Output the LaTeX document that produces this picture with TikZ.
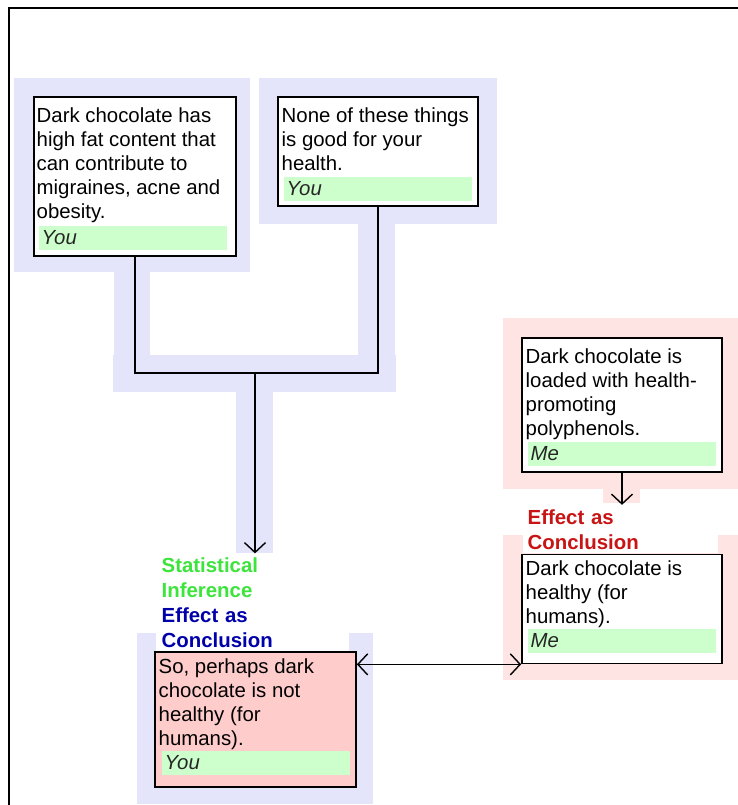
\documentclass[tikz,border=0pt]{standalone}
\usepackage{fontspec}
\setmainfont{Liberation Sans}
\usetikzlibrary{arrows.meta, positioning}

\definecolor{haloblue}{RGB}{228,228,250}
\definecolor{halopink}{RGB}{255,228,228}
\definecolor{bandgreen}{RGB}{204,255,204}
\definecolor{concpink}{RGB}{255,204,204}
\definecolor{infgreen}{RGB}{60,228,60}
\definecolor{effblue}{RGB}{0,0,170}
\definecolor{effred}{RGB}{200,20,20}
\newcommand{\claimfont}{\fontsize{14.5}{17}\selectfont}
\newcommand{\tagfont}{\fontsize{14.5}{17.6}\selectfont}

\begin{document}
\begin{tikzpicture}[x=0.025cm, y=-0.025cm, line width=1pt,
    >={Straight Barb[length=7pt,width=15pt]},
    claim/.style={draw, rectangle, fill=white, line width=1.2pt, inner sep=0pt},
    claimtext/.style={anchor=north west, inner sep=0pt, align=left, font=\claimfont},
    who/.style={anchor=north west, fill=bandgreen, minimum height=0.6cm, text width=4.55cm,
        inner xsep=0.075cm, inner ysep=0pt, align=left, text=black!85, font=\claimfont\itshape},
    tag/.style={anchor=south west, fill=white, inner xsep=0.15cm, inner ysep=0.1cm,
        align=left, font=\tagfont\bfseries}]
    \useasboundingbox (0,0) rectangle (738,805);

    % Frame
    \draw [line width=1.4pt] (9,805) -- (9,8) -- (738,8);

    % Highlights (you)
    \fill [haloblue] (14,78) rectangle (250,272);
    \fill [haloblue] (259,78) rectangle (497,224);
    \fill [haloblue] (114,272) rectangle (150,355);
    \fill [haloblue] (358,224) rectangle (395,355);
    \fill [haloblue] (113,355) rectangle (396,392);
    \fill [haloblue] (236,392) rectangle (273,553);
    \fill [haloblue] (137,633) rectangle (373,804);

    % Highlights (me)
    \fill [halopink] (503,318) rectangle (738,489);
    \fill [halopink] (603,489) rectangle (640,503);
    \fill [halopink] (503,535) rectangle (738,680);

    % Inference labels
    \node [tag, text width=4.625cm, inner xsep=0.125cm] (healthytag) at (522,554)
        {\textcolor{effred}{Effect as}\\\textcolor{effred}{Conclusion}};
    \node [tag, text width=4.525cm] (notoktag) at (155,652)
        {\textcolor{infgreen}{Statistical}\\\textcolor{infgreen}{Inference}\\\textcolor{effblue}{Effect as}\\\textcolor{effblue}{Conclusion}};

    % Premises
    \node [claim, minimum width=5.05cm, minimum height=3.975cm] (fat) at (135,176.5) {};
    \node [claimtext] (fattxt) at (36,107) {Dark chocolate has\\high fat content that\\can contribute to\\migraines, acne and\\obesity.};
    \node [who] (fatwho) at (38,225) {You};

    \node [claim, minimum width=5cm, minimum height=2.725cm] (bad) at (378,151.5) {};
    \node [claimtext] (badtxt) at (281,107) {None of these things\\is good for your\\health.};
    \node [who] (badwho) at (283,176) {You};

    \node [claim, minimum width=5cm, minimum height=3.35cm] (poly) at (622,405) {};
    \node [claimtext] (polytxt) at (525,348) {Dark chocolate is\\loaded with health-\\promoting\\polyphenols.};
    \node [who] (polywho) at (527,441) {Me};

    % Conclusions
    \node [claim, minimum width=5cm, minimum height=2.725cm] (healthy) at (622,609) {};
    \node [claimtext] (healthytxt) at (525,560) {Dark chocolate is\\healthy (for\\humans).};
    \node [who] (healthywho) at (527,628) {Me};

    \node [claim, fill=concpink, minimum width=5.025cm, minimum height=3.375cm] (notok) at (255.5,719.5) {};
    \node [claimtext] (notoktxt) at (158,658) {So, perhaps dark\\chocolate is not\\healthy (for\\humans).};
    \node [who] (notokwho) at (161,750) {You};

    % Connections
    \coordinate (join) at (255,373);
    \draw (fat.south) |- (join) -| (bad.south);
    \draw [->] (join) -- (join |- notoktag.north);
    \draw [->] (poly.south) -- (poly.south |- healthytag.north);
    \draw [<->] (notok.east |- healthy.south west) -- (healthy.south west);
\end{tikzpicture}
\end{document}
